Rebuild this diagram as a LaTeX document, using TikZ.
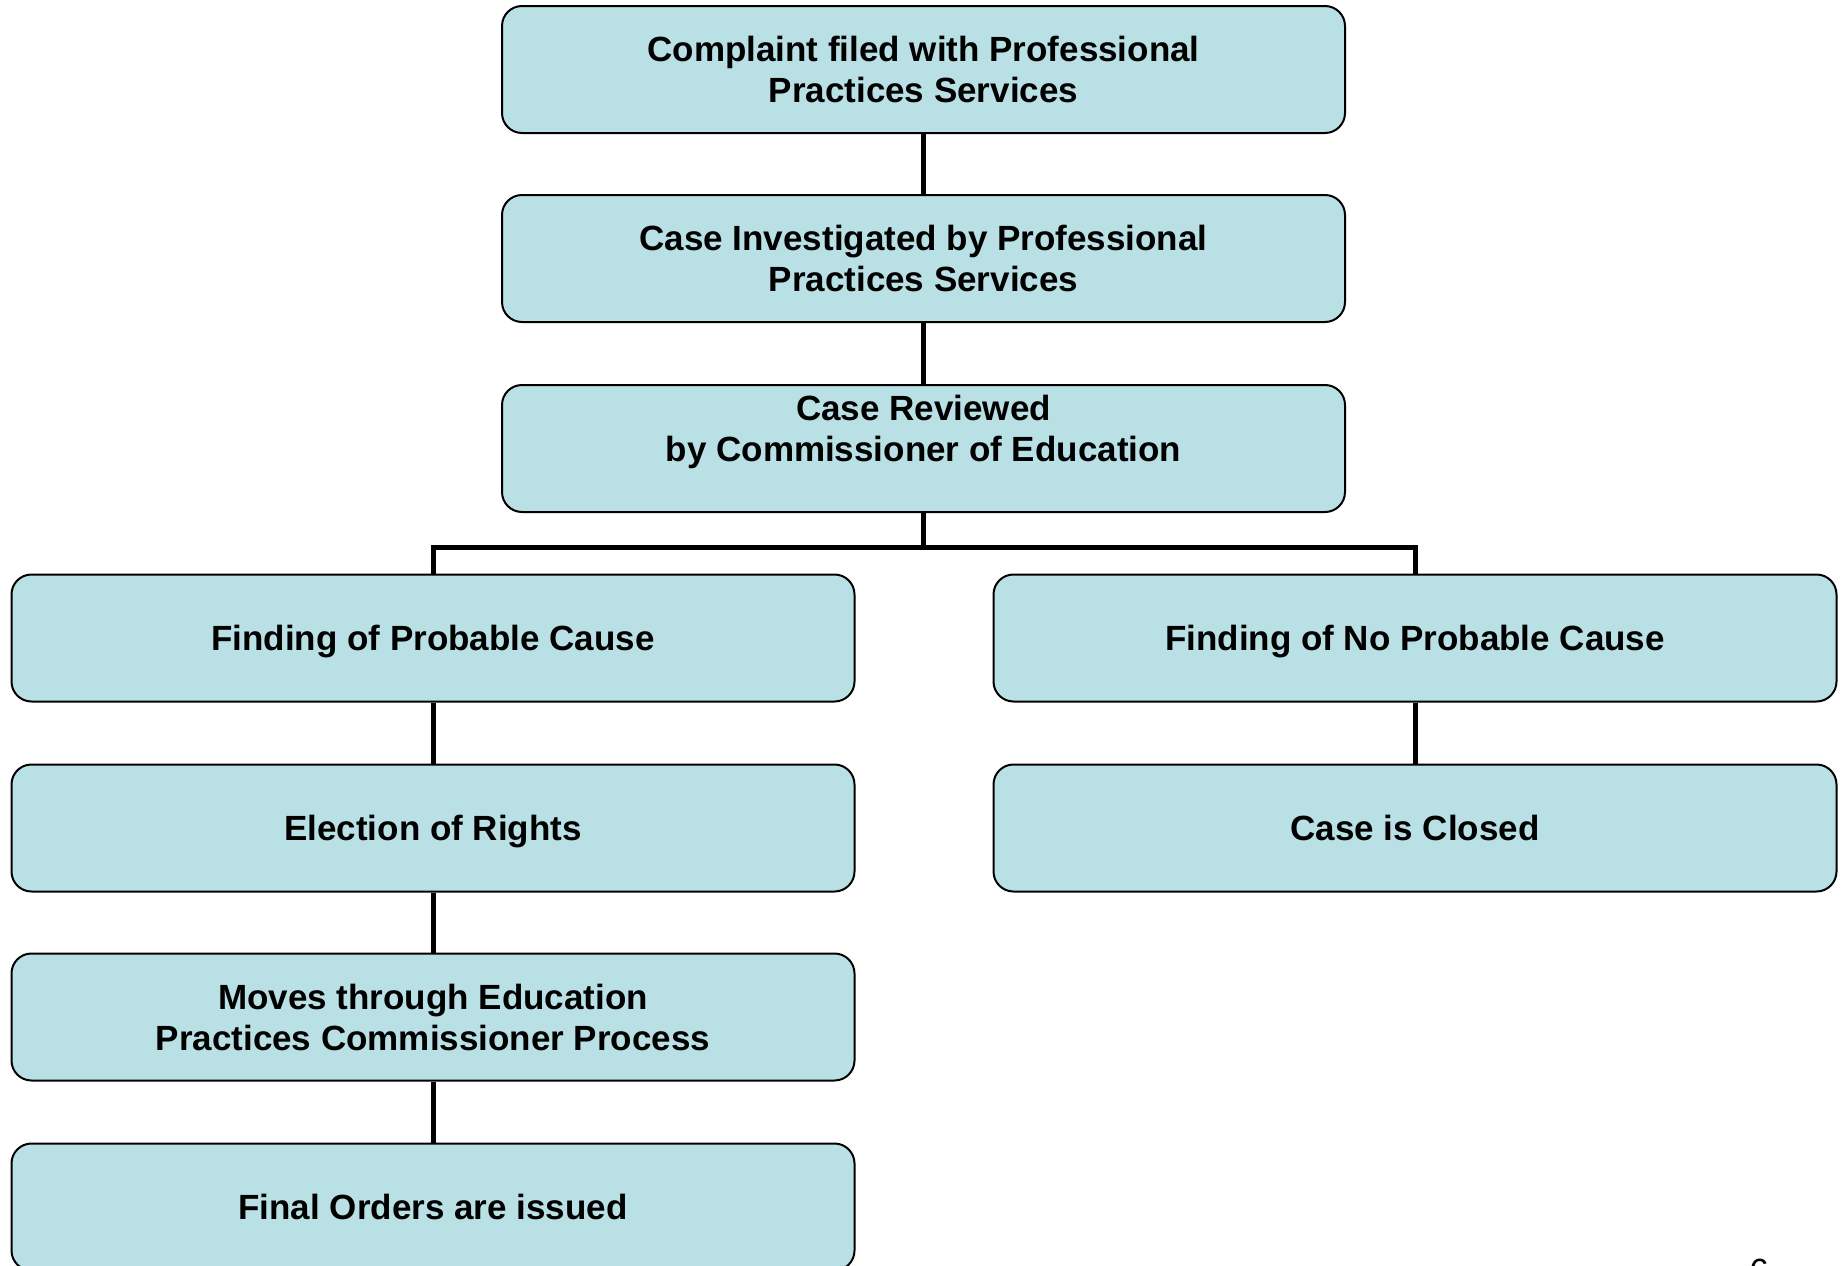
\documentclass[tikz,border=0pt]{standalone}
\usepackage{fontspec}
\setmainfont{Liberation Sans}
\definecolor{boxfill}{RGB}{185,224,228}
\begin{document}
\begin{tikzpicture}[x=1pt,y=-1pt,
  stepbox/.style={draw=black, line width=2pt, fill=boxfill, rounded corners=20pt,
    minimum width=843pt, minimum height=127pt, inner sep=0pt, align=center,
    font=\fontsize{35}{41}\selectfont\bfseries},
  oneline/.style={text height=25pt, text depth=0pt},
  conn/.style={draw=black, line width=5pt}]
\useasboundingbox (0,0) rectangle (1845,1266);
\node[stepbox] (c1) at (923.5,69.5) {Complaint filed with Professional\\Practices Services};
\node[stepbox] (c2) at (923.5,258.5) {Case Investigated by Professional\\Practices Services};
\node[stepbox] (c3) at (923.5,448.5) {Case Reviewed\\by Commissioner of Education\\~};
\node[stepbox, oneline] (l1) at (433,638) {Finding of Probable Cause};
\node[stepbox, oneline] (l2) at (433,828) {Election of Rights};
\node[stepbox] (l3) at (433,1017) {Moves through Education\\Practices Commissioner Process};
\node[stepbox, oneline] (l4) at (433,1207) {Final Orders are issued};
\node[stepbox, oneline] (r1) at (1415,638) {Finding of No Probable Cause};
\node[stepbox, oneline] (r2) at (1415,828) {Case is Closed};
\coordinate (bus) at (923.5,547);
\draw[conn] (c1.south) -- (c2.north);
\draw[conn] (c2.south) -- (c3.north);
\draw[conn] (c3.south) -- (bus);
\draw[conn] (bus) -| (l1.north);
\draw[conn] (bus) -| (r1.north);
\draw[conn] (l1.south) -- (l2.north);
\draw[conn] (l2.south) -- (l3.north);
\draw[conn] (l3.south) -- (l4.north);
\draw[conn] (r1.south) -- (r2.north);
\node[anchor=base, inner sep=0pt, font=\fontsize{35}{41}\selectfont] (pg) at (1759,1283) {6};
\end{tikzpicture}
\end{document}
